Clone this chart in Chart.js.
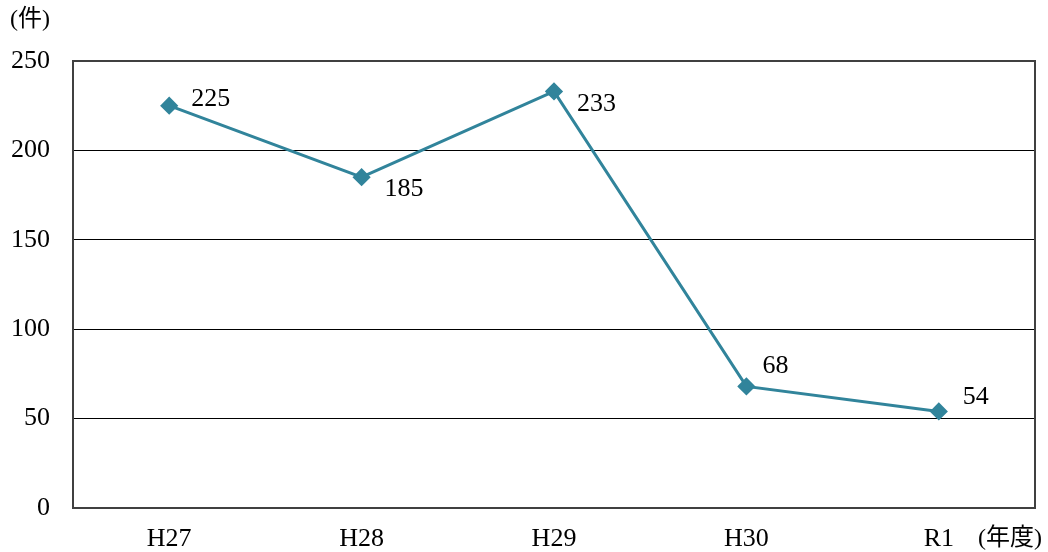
<!DOCTYPE html>
<html>
<head>
<meta charset="utf-8">
<script src="https://cdn.jsdelivr.net/npm/chart.js@4/dist/chart.umd.min.js"></script>
<style>
  html, body { margin: 0; padding: 0; background: #fff; }
  #wrap { width: 1048px; height: 552px; }
</style>
</head>
<body>
<div id="wrap"><canvas id="c" width="1048" height="552"></canvas></div>
<script>
const categories = ['H27', 'H28', 'H29', 'H30', 'R1'];
const counts = [225, 185, 233, 68, 54];
const yTicks = [0, 50, 100, 150, 200, 250];
const yUnit = '(件)';
const xUnit = '(年度)';

const FONT = '"Liberation Serif", "DejaVu Serif", "Noto Sans CJK JP", serif';
const CJK_FONT = '"Liberation Serif", "Noto Sans CJK JP", serif';

// label placement around each point (px)
const labelOffsets = [[22, -7], [23, 12], [23, 13], [16, -20], [24, -14]];

const framePlugin = {
  id: 'frame',
  afterDraw(chart) {
    const { ctx, chartArea: a } = chart;
    ctx.save();
    ctx.strokeStyle = '#404040';
    ctx.lineWidth = 2;
    ctx.strokeRect(a.left, a.top, a.right - a.left, a.bottom - a.top);
    ctx.restore();
  }
};

const labelsPlugin = {
  id: 'valueLabels',
  afterDatasetsDraw(chart) {
    const { ctx } = chart;
    const meta = chart.getDatasetMeta(0);
    ctx.save();
    ctx.font = '26px ' + FONT;
    ctx.fillStyle = '#000';
    ctx.textAlign = 'left';
    ctx.textBaseline = 'middle';
    meta.data.forEach((pt, i) => {
      const [dx, dy] = labelOffsets[i];
      ctx.fillText(String(counts[i]), pt.x + dx, pt.y + dy);
    });
    // unit captions
    ctx.font = '24px ' + CJK_FONT;
    ctx.fillText(yUnit, 10, 20);
    ctx.fillText(xUnit, 978, 539);
    ctx.restore();
  }
};

new Chart(document.getElementById('c'), {
  type: 'line',
  data: {
    labels: categories,
    datasets: [{
      data: counts,
      borderColor: '#31849B',
      backgroundColor: '#31849B',
      borderWidth: 3,
      pointStyle: 'rectRot',
      pointRadius: 7,
      pointHoverRadius: 7,
      tension: 0
    }]
  },
  options: {
    responsive: false,
    animation: false,
    layout: { padding: { top: 61, right: 13, left: 0, bottom: 0 } },
    plugins: { legend: { display: false }, tooltip: { enabled: false } },
    scales: {
      x: {
        offset: true,
        grid: { display: false },
        border: { display: false },
        ticks: { color: '#000', font: { family: FONT, size: 26 }, padding: 8 },
        afterFit(s) { s.height = 44; }
      },
      y: {
        min: 0,
        max: 250,
        afterBuildTicks(s) { s.ticks = yTicks.map(v => ({ value: v })); },
        grid: { color: '#000', lineWidth: 1, drawTicks: false },
        border: { display: false },
        ticks: { color: '#000', font: { family: FONT, size: 26 }, padding: 23 },
        afterFit(s) { s.width = 73; }
      }
    }
  },
  plugins: [framePlugin, labelsPlugin]
});
</script>
</body>
</html>
